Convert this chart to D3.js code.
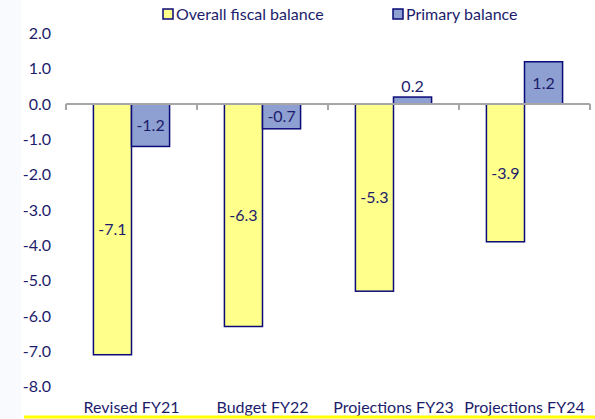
<!DOCTYPE html>
<html>
<head>
<meta charset="utf-8">
<script src="https://cdn.jsdelivr.net/npm/d3@7"></script>
<style>
  body { margin: 0; background: #fff; }
  svg text { font-family: Lato, "Open Sans", sans-serif; fill: #1c1c6b; font-size: 16px; }
</style>
</head>
<body>
<svg id="chart" width="595" height="419"></svg>
<script>
	'use strict'
	// values
	var categories = ["Revised FY21", "Budget FY22", "Projections FY23", "Projections FY24"];
	var overall = [-7.1, -6.3, -5.3, -3.9];
	var primary = [-1.2, -0.7, 0.2, 1.2];
	var seriesNames = ["Overall fiscal balance", "Primary balance"];
	var yTicks = [2, 1, 0, -1, -2, -3, -4, -5, -6, -7, -8];

	var colors = ["#ffff8c", "#8e9fd1"];
	var stroke = "#0a0a78";
	var fmt = function(d){ return d3.format(".1f")(d).replace("\u2212", "-"); };

	var svg = d3.select("#chart");
	svg.append("rect").attr("x", 0).attr("y", 0).attr("width", 21).attr("height", 419).attr("fill", "#f8fafd");

	var y = d3.scaleLinear().domain([-8, 2]).range([386.5, 33.5]);
	var x = d3.scaleBand().domain(categories).range([66, 590]);
	var inner = d3.scaleBand().domain([0, 1]).range([0, x.bandwidth()]).paddingInner(0).paddingOuter(0.72);

	// y axis labels (no line)
	svg.append("g").selectAll("text")
		.data(yTicks)
		.enter().append("text")
			.attr("x", 51)
			.attr("y", function(d){ return y(d); })
			.attr("dy", "0.35em")
			.attr("text-anchor", "end")
			.text(fmt);

	var series = [overall, primary];
	series.forEach(function(vals, s){
		var g = svg.append("g");
		g.selectAll("rect")
			.data(vals)
			.enter().append("rect")
				.attr("x", function(d, i){ return x(categories[i]) + inner(s); })
				.attr("y", function(d){ return y(Math.max(0, d)); })
				.attr("width", inner.bandwidth())
				.attr("height", function(d){ return Math.abs(y(d) - y(0)); })
				.attr("fill", colors[s])
				.attr("stroke", stroke)
				.attr("stroke-width", 1.5);
	});

	// zero axis line with category separators
	var axis = svg.append("g");
	axis.append("line")
		.attr("x1", 66).attr("x2", 590)
		.attr("y1", y(0)).attr("y2", y(0))
		.attr("stroke", "#a6a6a6").attr("stroke-width", 2);
	var edges = categories.map(function(c){ return x(c); }).concat([590]);
	axis.selectAll("line.tick")
		.data(edges)
		.enter().append("line")
			.attr("class", "tick")
			.attr("x1", function(d){ return d; }).attr("x2", function(d){ return d; })
			.attr("y1", y(0)).attr("y2", y(0) + 6)
			.attr("stroke", "#a6a6a6").attr("stroke-width", 2);

	// value labels
	series.forEach(function(vals, s){
		svg.append("g").selectAll("text")
			.data(vals)
			.enter().append("text")
				.attr("x", function(d, i){ return x(categories[i]) + inner(s) + inner.bandwidth() / 2; })
				.attr("y", function(d){
					if (Math.abs(y(d) - y(0)) < 20) return y(d) - 11;
					return (y(d) + y(0)) / 2;
				})
				.attr("dy", "0.35em")
				.attr("text-anchor", "middle")
				.text(fmt);
	});

	// category labels
	svg.append("g").selectAll("text")
		.data(categories)
		.enter().append("text")
			.attr("x", function(d){ return x(d) + x.bandwidth() / 2; })
			.attr("y", 407)
			.attr("dy", "0.35em")
			.attr("text-anchor", "middle")
			.text(function(d){ return d; });

	// legend
	var legendX = [163, 393];
	seriesNames.forEach(function(name, s){
		var lg = svg.append("g").attr("transform", "translate(" + legendX[s] + ",14)");
		lg.append("rect")
			.attr("x", 0).attr("y", -5)
			.attr("width", 10).attr("height", 10)
			.attr("fill", colors[s]).attr("stroke", stroke).attr("stroke-width", 1.5);
		lg.append("text")
			.attr("x", 13).attr("y", 0)
			.attr("dy", "0.35em")
			.text(name);
	});

	// bottom yellow rule
	svg.append("line")
		.attr("x1", 24).attr("x2", 595)
		.attr("y1", 417).attr("y2", 417)
		.attr("stroke", "#ffff00").attr("stroke-width", 3);
</script>
</body>
</html>
